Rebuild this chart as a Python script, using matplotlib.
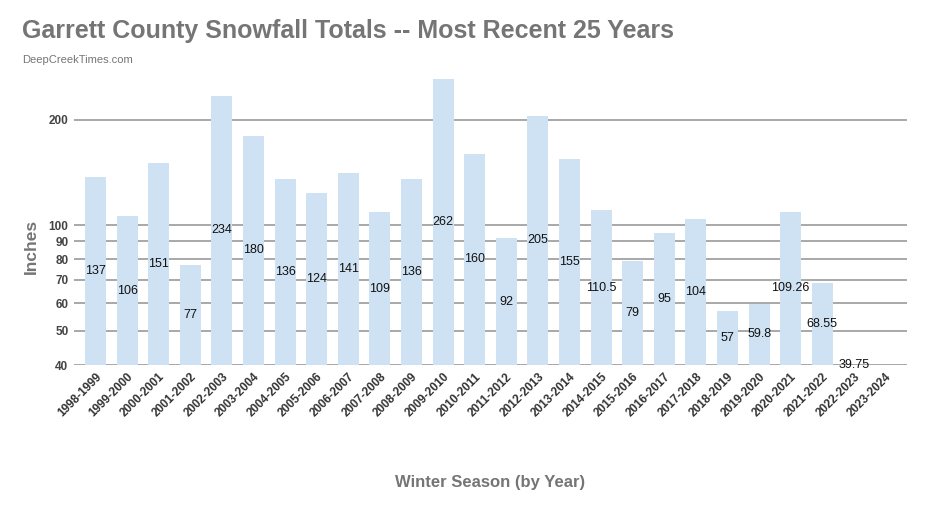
import numpy as np
import matplotlib
matplotlib.use('Agg')
import matplotlib.pyplot as plt
from matplotlib.ticker import FixedLocator, NullLocator

plt.rcParams['font.family'] = ['Liberation Sans', 'DejaVu Sans']

seasons = ['1998-1999', '1999-2000', '2000-2001', '2001-2002', '2002-2003',
           '2003-2004', '2004-2005', '2005-2006', '2006-2007', '2007-2008',
           '2008-2009', '2009-2010', '2010-2011', '2011-2012', '2012-2013',
           '2013-2014', '2014-2015', '2015-2016', '2016-2017', '2017-2018',
           '2018-2019', '2019-2020', '2020-2021', '2021-2022', '2022-2023',
           '2023-2024']
snowfall = [137, 106, 151, 77, 234, 180, 136, 124, 141, 109, 136, 262, 160,
            92, 205, 155, 110.5, 79, 95, 104, 57, 59.8, 109.26, 68.55, 39.75,
            np.nan]
labels = ['137', '106', '151', '77', '234', '180', '136', '124', '141', '109',
          '136', '262', '160', '92', '205', '155', '110.5', '79', '95', '104',
          '57', '59.8', '109.26', '68.55', '39.75', '']
yticks = [40, 50, 60, 70, 80, 90, 100, 200]

base = 40
fig = plt.figure(figsize=(9.36, 5.30), dpi=100)
ax = fig.add_axes([74/936, 1 - 365/530, 833/936, (365 - 74)/530])

x = np.arange(len(seasons))
vals = np.array(snowfall, dtype=float)
ax.set_yscale('log')
ax.bar(x, vals - base, bottom=base, width=0.66, color='#cfe2f3', zorder=2)

# value labels sit halfway up the bar (log space)
for xi, v, lab in zip(x, vals, labels):
    if np.isnan(v):
        continue
    ymid = np.sqrt(base * v)
    ax.text(xi, ymid, lab, ha='center', va='center', fontsize=9,
            color='#111111', zorder=3)

ax.set_ylim(base, 270)
ax.set_xlim(-0.68, 25.68)
ax.yaxis.set_major_locator(FixedLocator(yticks))
ax.yaxis.set_minor_locator(NullLocator())
ax.set_yticklabels([str(t) for t in yticks], fontsize=8.5, fontweight='bold', color='#444444')
ax.grid(axis='y', color='#9a9a9a', linewidth=1.2, zorder=1)
ax.set_axisbelow(True)
ax.set_xticks(x)
ax.set_xticklabels(seasons, rotation=45, ha='right', rotation_mode='anchor',
                   fontsize=8.5, fontweight='bold', color='#333333')
ax.tick_params(axis='both', length=0, pad=4)
for s in ax.spines.values():
    s.set_visible(False)

fig.text(31/936, 1 - 246/530, 'Inches', rotation=90, ha='center', va='center',
         fontsize=12.5, fontweight='bold', color='#757575')
fig.text(490/936, 1 - 483/530, 'Winter Season (by Year)', ha='center', va='center',
         fontsize=12, fontweight='bold', color='#757575')
fig.text(22/936, 1 - 31/530, 'Garrett County Snowfall Totals -- Most Recent 25 Years',
         ha='left', va='center', fontsize=18, fontweight='bold', color='#757575')
fig.text(22/936, 1 - 60/530, 'DeepCreekTimes.com', ha='left', va='center',
         fontsize=8, color='#757575')

fig.savefig('out.png', dpi=100)
